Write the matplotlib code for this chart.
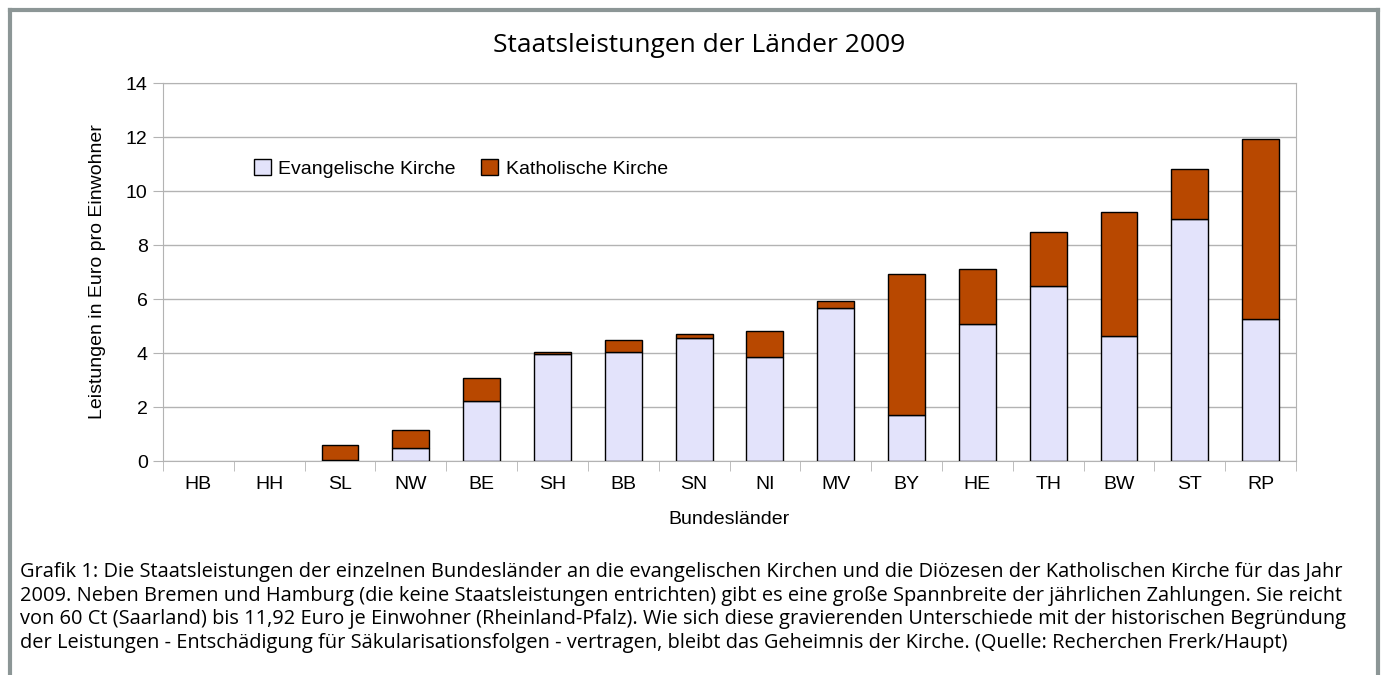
import matplotlib
matplotlib.use("Agg")
import matplotlib.pyplot as plt
from matplotlib.patches import Patch
import numpy as np

categories = ["HB", "HH", "SL", "NW", "BE", "SH", "BB", "SN", "NI", "MV", "BY", "HE", "TH", "BW", "ST", "RP"]
totals = [0, 0, 0.60, 1.15, 3.07, 4.05, 4.47, 4.71, 4.82, 5.93, 6.93, 7.12, 8.50, 9.22, 10.80, 11.92]
evangelisch = [0, 0, 0.05, 0.47, 2.22, 3.97, 4.05, 4.55, 3.85, 5.67, 1.70, 5.07, 6.48, 4.63, 8.95, 5.27]
katholisch = [t - e for t, e in zip(totals, evangelisch)]
series_names = ["Evangelische Kirche", "Katholische Kirche"]
yticks = [0, 2, 4, 6, 8, 10, 12, 14]

title = "Staatsleistungen der Länder 2009"
ylabel = "Leistungen in Euro pro Einwohner"
xlabel = "Bundesländer"
caption = ("Grafik 1: Die Staatsleistungen der einzelnen Bundesländer an die evangelischen Kirchen und die Diözesen der Katholischen Kirche für das Jahr\n"
           "2009. Neben Bremen und Hamburg (die keine Staatsleistungen entrichten) gibt es eine große Spannbreite der jährlichen Zahlungen. Sie reicht\n"
           "von 60 Ct (Saarland) bis 11,92 Euro je Einwohner (Rheinland-Pfalz). Wie sich diese gravierenden Unterschiede mit der historischen Begründung\n"
           "der Leistungen - Entschädigung für Säkularisationsfolgen - vertragen, bleibt das Geheimnis der Kirche. (Quelle: Recherchen Frerk/Haupt)")

W, H = 1387, 675
fig = plt.figure(figsize=(W / 100, H / 100), dpi=100)
fig.patch.set_facecolor("white")

# outer frame
frame_color = "#8c9696"
fig.add_artist(plt.Line2D([10 / W, 10 / W], [0, 1 - 10 / H], transform=fig.transFigure, color=frame_color, lw=3))
fig.add_artist(plt.Line2D([1378 / W, 1378 / W], [0, 1 - 10 / H], transform=fig.transFigure, color=frame_color, lw=3))
fig.add_artist(plt.Line2D([10 / W, 1378 / W], [1 - 10 / H, 1 - 10 / H], transform=fig.transFigure, color=frame_color, lw=3))

ax = fig.add_axes([163 / W, 1 - 461 / H, (1296 - 163) / W, (461 - 83) / H])
x = np.arange(len(categories))
ev_color = "#e3e3fb"
ka_color = "#b84800"
b1 = ax.bar(x, evangelisch, width=0.52, color=ev_color, edgecolor="black", linewidth=1.0, zorder=3)
b2 = ax.bar(x, katholisch, width=0.52, bottom=evangelisch, color=ka_color, edgecolor="black", linewidth=1.0, zorder=3)
for p in list(b1) + list(b2):
    if p.get_height() <= 0:
        p.set_visible(False)

ax.set_xlim(-0.5, len(categories) - 0.5)
ax.set_ylim(0, 14)
ax.set_yticks(yticks)
ax.set_yticklabels([str(v) for v in yticks], fontsize=14, family="Liberation Sans")
ax.yaxis.grid(True, color="#b3b3b3", lw=1)
ax.set_axisbelow(True)
for s in ax.spines.values():
    s.set_color("#b3b3b3")
ax.tick_params(axis="y", length=7, color="#b3b3b3", pad=4)
ax.set_xticks(x)
ax.set_xticklabels(categories, fontsize=14, family="Liberation Sans")
ax.tick_params(axis="x", which="major", length=0, pad=11)
ax.set_xticks(np.arange(-0.5, len(categories), 1), minor=True)
ax.tick_params(axis="x", which="minor", length=7, color="#b3b3b3")

ax.set_ylabel(ylabel, fontsize=14, family="Liberation Sans", labelpad=14)
ax.set_xlabel(xlabel, fontsize=14, family="Liberation Sans", labelpad=13)

handles = [Patch(facecolor=ev_color, edgecolor="black", linewidth=1.0, label=series_names[0]),
           Patch(facecolor=ka_color, edgecolor="black", linewidth=1.0, label=series_names[1])]
leg = ax.legend(handles=handles, loc="upper left", bbox_to_anchor=(0.065, 0.845), ncol=2, frameon=False,
                prop={"family": "Liberation Sans", "size": 14}, handlelength=0.85, handleheight=0.85,
                handletextpad=0.4, columnspacing=1.3)

fig.text(699 / W, 1 - 45 / H, title, ha="center", va="center", fontsize=19, family="Open Sans")
fig.text(20 / W, 1 - 562 / H, caption, ha="left", va="top", fontsize=14.4, family="Open Sans", linespacing=1.24)

fig.savefig("out.png", dpi=100)
